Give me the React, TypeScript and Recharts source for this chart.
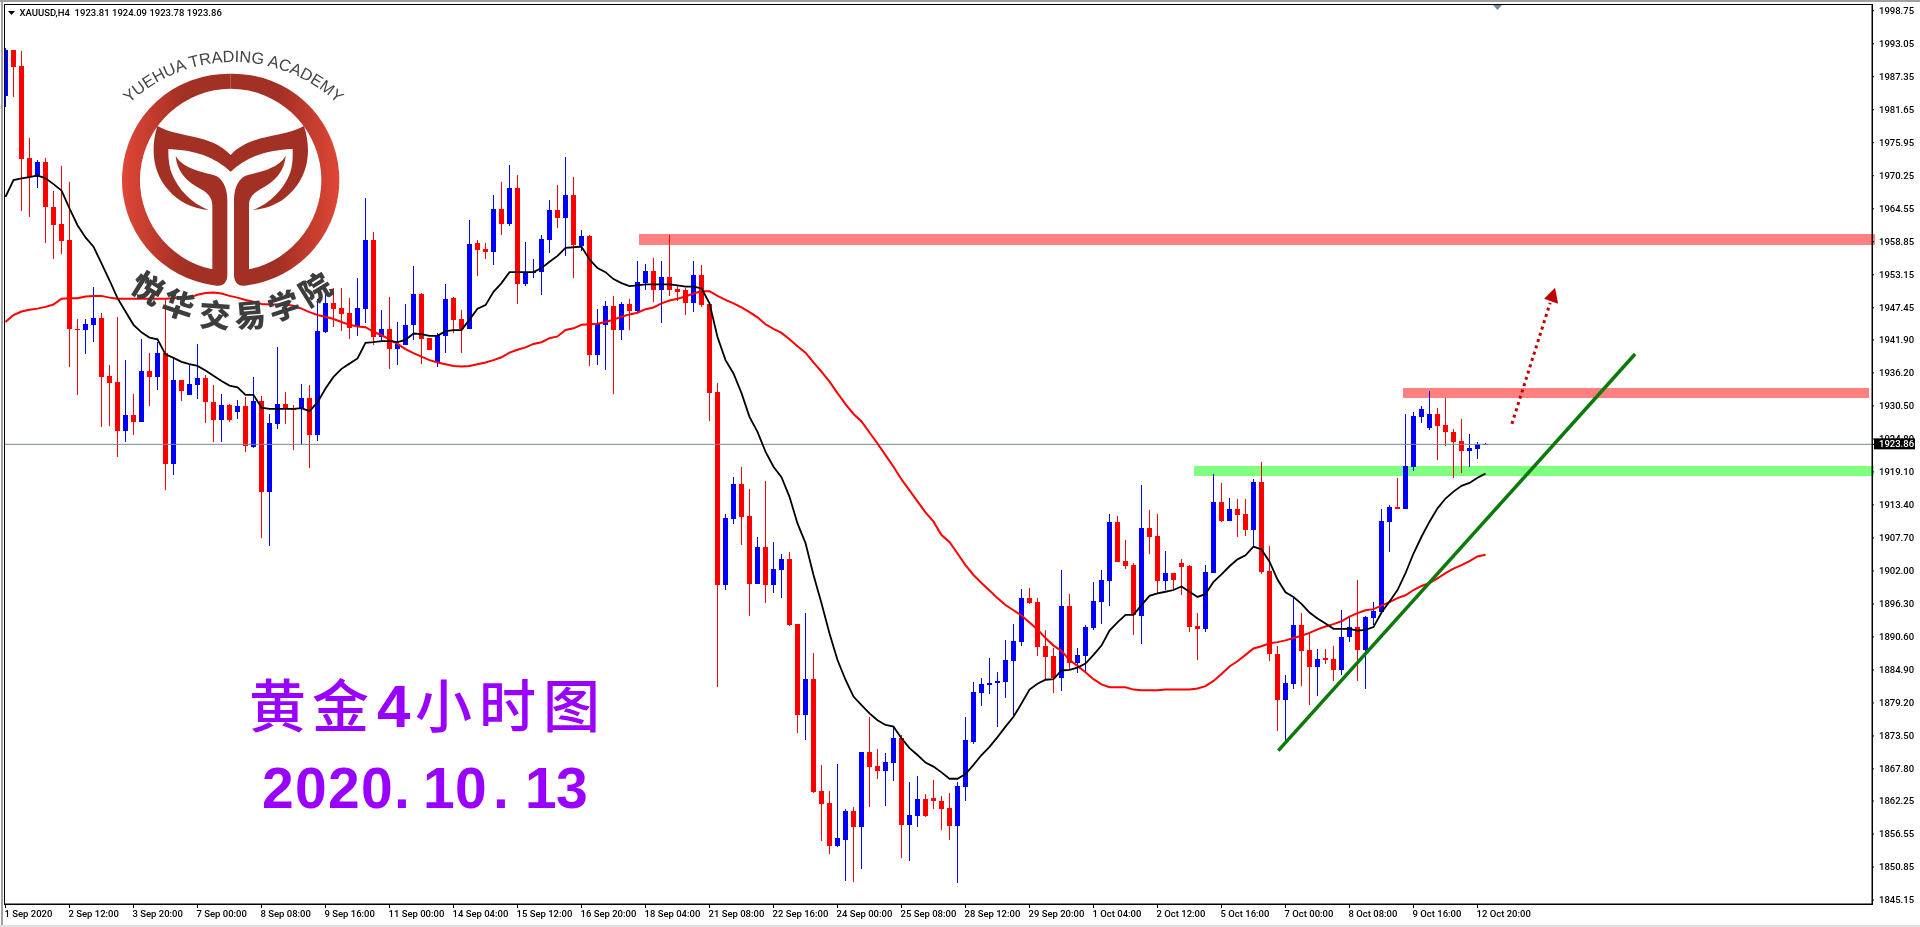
import React from "react";
import {
  ComposedChart,
  Bar,
  Line,
  XAxis,
  YAxis,
  ReferenceLine,
  ReferenceArea,
  ReferenceDot,
} from "recharts";

const opens = [
  1984.0, 1992.0, 1989.2, 1973.3, 1970.1, 1972.6, 1964.8, 1961.9, 1959.2, 1943.8,
  1943.6, 1944.5, 1945.7, 1935.7, 1934.6, 1926.2, 1929.0, 1927.8, 1936.5, 1935.5,
  1939.6, 1920.5, 1935.0, 1932.3, 1934.1, 1935.4, 1931.2, 1928.1, 1930.7, 1929.4,
  1930.5, 1923.4, 1931.3, 1915.6, 1927.4, 1930.8, 1930.0, 1930.0, 1931.9, 1925.5,
  1943.3, 1948.3, 1947.4, 1946.5, 1944.2, 1947.2, 1959.2, 1942.4, 1943.8, 1940.3,
  1941.0, 1944.5, 1949.8, 1942.2, 1938.1, 1942.6, 1949.1, 1945.5, 1943.8, 1958.6,
  1957.6, 1957.1, 1964.5, 1961.9, 1968.1, 1951.5, 1953.4, 1953.6, 1959.2, 1964.3,
  1962.9, 1966.9, 1958.1, 1959.8, 1939.3, 1944.5, 1947.8, 1943.6, 1948.1, 1946.9,
  1951.7, 1953.8, 1950.5, 1952.8, 1950.7, 1950.5, 1948.3, 1953.1, 1948.1, 1932.9,
  1899.6, 1911.0, 1917.0, 1911.5, 1899.7, 1906.1, 1899.6, 1902.2, 1904.1, 1892.8,
  1877.1, 1883.3, 1864.0, 1861.9, 1854.5, 1855.5, 1860.5, 1857.8, 1870.7, 1868.3,
  1867.4, 1868.8, 1873.1, 1858.1, 1859.7, 1862.6, 1862.8, 1862.3, 1861.0, 1857.9,
  1864.7, 1872.4, 1880.9, 1882.3, 1882.6, 1882.8, 1886.4, 1889.7, 1897.3, 1896.6,
  1889.0, 1887.3, 1883.5, 1895.9, 1886.1, 1887.3, 1892.1, 1896.6, 1900.2, 1910.4,
  1903.7, 1903.0, 1894.2, 1909.4, 1908.0, 1900.2, 1901.6, 1903.4, 1902.8, 1892.5,
  1892.0, 1901.6, 1913.9, 1910.6, 1912.7, 1911.8, 1909.1, 1917.4, 1902.0, 1887.6,
  1879.7, 1882.5, 1892.7, 1888.3, 1885.4, 1887.0, 1886.8, 1884.9, 1890.6, 1892.3,
  1888.3, 1893.9, 1894.9, 1910.4, 1913.0, 1912.7, 1919.9, 1928.6, 1926.7, 1929.1,
  1927.2, 1926.0, 1924.4, 1922.7, 1923.1, 1923.81,
];

const closes = [
  1992.0, 1989.1, 1973.2, 1970.1, 1972.6, 1964.8, 1961.8, 1958.9, 1943.8, 1943.7,
  1944.6, 1945.7, 1935.5, 1934.5, 1926.2, 1929.0, 1927.8, 1936.5, 1935.5, 1939.6,
  1920.5, 1935.0, 1933.0, 1934.3, 1935.4, 1931.2, 1928.1, 1930.7, 1928.1, 1930.5,
  1923.6, 1931.3, 1915.6, 1927.5, 1930.8, 1930.0, 1929.9, 1931.9, 1925.5, 1943.4,
  1948.3, 1947.2, 1946.4, 1944.0, 1947.4, 1959.2, 1942.4, 1943.8, 1940.3, 1941.2,
  1944.5, 1949.8, 1942.1, 1940.2, 1942.7, 1949.0, 1945.3, 1943.8, 1958.5, 1957.4,
  1957.1, 1964.5, 1961.9, 1968.1, 1951.5, 1953.6, 1953.6, 1959.3, 1964.3, 1962.9,
  1966.9, 1958.3, 1959.8, 1939.3, 1944.6, 1947.8, 1943.6, 1948.1, 1946.9, 1951.9,
  1953.8, 1950.5, 1952.8, 1950.5, 1950.2, 1948.3, 1953.1, 1947.9, 1932.7, 1899.6,
  1911.1, 1917.0, 1911.3, 1899.7, 1906.1, 1899.6, 1902.3, 1904.1, 1892.7, 1877.1,
  1883.3, 1863.8, 1861.7, 1854.5, 1855.9, 1860.5, 1857.8, 1870.7, 1868.1, 1867.4,
  1869.0, 1873.1, 1858.1, 1859.8, 1862.6, 1859.7, 1862.3, 1860.9, 1857.9, 1864.8,
  1872.8, 1881.1, 1882.5, 1882.6, 1883.0, 1886.6, 1889.9, 1897.3, 1896.5, 1888.9,
  1887.1, 1883.5, 1895.9, 1886.1, 1887.5, 1892.3, 1896.8, 1900.4, 1910.4, 1903.5,
  1902.8, 1894.4, 1909.4, 1907.9, 1900.2, 1901.6, 1900.4, 1902.7, 1892.3, 1892.0,
  1901.8, 1913.9, 1910.6, 1912.7, 1911.7, 1909.1, 1917.4, 1901.8, 1887.6, 1879.7,
  1882.6, 1892.7, 1888.2, 1885.4, 1886.8, 1886.6, 1884.9, 1890.6, 1892.3, 1888.3,
  1894.0, 1895.1, 1910.6, 1913.0, 1912.7, 1920.1, 1928.7, 1930.0, 1929.1, 1927.0,
  1926.0, 1924.3, 1922.7, 1923.2, 1923.9, 1923.86,
];

const highs = [
  1992.3, 1992.0, 1991.8, 1976.7, 1973.0, 1973.3, 1967.6, 1971.9, 1969.1, 1945.5,
  1945.5, 1951.0, 1946.5, 1937.6, 1945.9, 1938.4, 1932.6, 1942.0, 1939.7, 1941.5,
  1949.1, 1938.9, 1935.0, 1937.6, 1941.2, 1935.8, 1934.1, 1932.6, 1930.8, 1931.5,
  1932.0, 1935.5, 1932.2, 1929.1, 1940.7, 1932.9, 1930.6, 1934.3, 1934.1, 1949.0,
  1950.6, 1950.9, 1950.8, 1949.2, 1952.6, 1966.4, 1960.5, 1947.1, 1949.3, 1945.0,
  1948.1, 1954.7, 1950.0, 1942.2, 1943.1, 1951.5, 1949.3, 1947.1, 1962.6, 1959.2,
  1958.6, 1966.9, 1969.2, 1972.1, 1970.4, 1958.8, 1955.9, 1960.0, 1966.1, 1968.6,
  1973.5, 1970.0, 1960.9, 1960.0, 1947.2, 1948.6, 1949.5, 1948.4, 1949.0, 1955.5,
  1955.0, 1956.0, 1955.5, 1960.0, 1951.2, 1950.9, 1955.5, 1954.8, 1948.1, 1934.4,
  1911.8, 1918.2, 1919.9, 1916.1, 1907.9, 1917.5, 1907.0, 1904.9, 1905.3, 1892.8,
  1894.7, 1887.8, 1868.5, 1864.0, 1868.6, 1860.9, 1861.2, 1870.7, 1876.8, 1871.2,
  1870.5, 1875.0, 1873.7, 1865.5, 1866.6, 1863.5, 1865.9, 1863.1, 1863.6, 1865.5,
  1876.8, 1882.8, 1883.5, 1887.0, 1884.5, 1890.1, 1892.8, 1898.9, 1899.1, 1897.3,
  1891.8, 1888.7, 1902.2, 1898.0, 1888.7, 1892.7, 1900.1, 1902.2, 1911.8, 1911.5,
  1907.3, 1903.4, 1916.8, 1912.5, 1911.8, 1905.4, 1901.6, 1904.1, 1903.0, 1894.7,
  1903.0, 1918.7, 1917.2, 1914.6, 1914.4, 1914.4, 1917.9, 1920.8, 1906.3, 1889.0,
  1884.0, 1897.7, 1894.7, 1891.3, 1888.5, 1888.5, 1889.0, 1895.2, 1894.0, 1900.4,
  1894.2, 1896.6, 1912.7, 1913.4, 1918.0, 1929.1, 1929.4, 1930.5, 1933.1, 1930.1,
  1931.9, 1926.5, 1928.2, 1925.6, 1924.3, 1924.09,
];

const lows = [
  1982.1, 1983.9, 1964.2, 1963.1, 1968.2, 1958.7, 1955.8, 1956.7, 1937.3, 1932.3,
  1939.5, 1941.5, 1926.9, 1927.0, 1921.7, 1924.3, 1925.5, 1927.8, 1930.5, 1933.2,
  1916.0, 1918.6, 1931.3, 1932.3, 1931.7, 1927.5, 1924.3, 1924.3, 1927.7, 1928.3,
  1922.5, 1923.2, 1907.7, 1906.3, 1926.5, 1927.4, 1922.9, 1923.7, 1919.8, 1924.4,
  1943.1, 1944.2, 1943.5, 1942.1, 1942.6, 1944.8, 1941.0, 1941.7, 1936.9, 1937.6,
  1941.0, 1941.9, 1937.8, 1940.2, 1937.3, 1939.6, 1943.1, 1939.6, 1943.8, 1952.9,
  1955.9, 1954.8, 1960.0, 1961.6, 1948.1, 1951.2, 1952.6, 1949.6, 1956.9, 1961.3,
  1956.4, 1952.6, 1957.2, 1937.4, 1937.6, 1936.7, 1932.6, 1941.9, 1943.6, 1946.7,
  1950.5, 1948.4, 1944.8, 1949.5, 1948.6, 1946.2, 1946.7, 1947.6, 1927.9, 1882.0,
  1898.7, 1910.1, 1906.5, 1894.2, 1899.7, 1896.5, 1898.2, 1897.3, 1892.5, 1874.0,
  1872.8, 1863.6, 1855.4, 1853.1, 1854.3, 1848.4, 1848.3, 1850.5, 1861.2, 1866.1,
  1861.4, 1865.7, 1852.4, 1851.9, 1857.8, 1859.5, 1860.9, 1857.3, 1855.5, 1848.1,
  1862.3, 1872.1, 1878.7, 1880.7, 1875.0, 1880.0, 1876.8, 1889.0, 1896.3, 1887.3,
  1883.3, 1880.9, 1881.3, 1884.9, 1884.4, 1884.5, 1891.8, 1892.8, 1895.9, 1903.5,
  1902.3, 1890.9, 1889.4, 1904.9, 1898.0, 1898.7, 1898.7, 1897.8, 1891.4, 1886.6,
  1891.4, 1901.6, 1910.4, 1910.6, 1907.8, 1908.0, 1906.2, 1901.5, 1886.4, 1874.3,
  1872.5, 1881.6, 1882.1, 1878.8, 1880.4, 1885.9, 1883.0, 1884.0, 1889.7, 1883.0,
  1881.6, 1892.7, 1894.9, 1905.3, 1912.7, 1912.7, 1919.2, 1927.5, 1926.3, 1921.2,
  1923.6, 1918.0, 1918.9, 1919.9, 1921.3, 1923.78,
];

const blackMa = [
  1966.6, 1969.5, 1969.8, 1970.0, 1970.3, 1969.8, 1968.8, 1967.7, 1964.6, 1961.7,
  1959.6, 1958.0, 1955.1, 1952.2, 1949.1, 1946.8, 1944.5, 1943.2, 1942.3, 1942.0,
  1939.4, 1938.8, 1938.1, 1937.7, 1937.4, 1936.6, 1935.7, 1934.8, 1934.0, 1933.7,
  1932.4, 1932.4, 1930.2, 1930.0, 1930.0, 1930.0, 1930.0, 1930.1, 1929.6, 1931.1,
  1933.5, 1935.5, 1936.9, 1937.8, 1938.7, 1941.4, 1941.5, 1941.7, 1941.7, 1941.5,
  1941.9, 1943.0, 1942.9, 1942.6, 1942.6, 1943.4, 1943.6, 1943.6, 1945.4, 1947.3,
  1947.9, 1950.2, 1951.7, 1953.6, 1953.6, 1953.6, 1953.6, 1954.3, 1955.4, 1956.4,
  1957.8, 1957.9, 1958.0, 1955.8, 1954.3, 1953.6, 1952.4, 1951.7, 1951.2, 1951.3,
  1951.5, 1951.5, 1951.5, 1951.5, 1951.3, 1951.1, 1951.1, 1950.8, 1948.2, 1942.4,
  1938.4, 1936.1, 1932.7, 1928.6, 1926.0, 1922.6, 1920.0, 1918.2, 1914.8, 1910.2,
  1906.8, 1901.3, 1896.4, 1891.2, 1886.6, 1883.2, 1880.3, 1878.8, 1877.4, 1876.2,
  1875.4, 1875.1, 1873.1, 1871.4, 1870.2, 1868.9, 1868.2, 1867.2, 1866.1, 1866.1,
  1866.9, 1868.5, 1870.2, 1871.6, 1873.3, 1875.1, 1876.8, 1879.1, 1881.5, 1882.5,
  1883.2, 1883.3, 1884.8, 1884.9, 1885.3, 1886.0, 1887.5, 1889.1, 1891.7, 1893.1,
  1894.4, 1894.4, 1896.1, 1897.7, 1898.1, 1898.4, 1898.7, 1899.3, 1898.4, 1897.5,
  1898.0, 1900.1, 1901.4, 1902.8, 1904.0, 1904.7, 1906.2, 1905.7, 1903.6, 1900.5,
  1898.3, 1897.5, 1896.3, 1894.8, 1893.8, 1892.9, 1892.0, 1892.0, 1892.0, 1891.7,
  1891.8, 1892.3, 1894.8, 1896.7, 1898.7, 1901.6, 1905.0, 1907.9, 1910.5, 1912.8,
  1914.5, 1915.7, 1916.7, 1917.2, 1918.1, 1918.8,
];

const redMa = [
  1945.0, 1946.2, 1946.8, 1947.1, 1947.3, 1947.6, 1948.0, 1949.0, 1949.1, 1949.1,
  1949.4, 1949.5, 1949.5, 1949.2, 1949.0, 1949.0, 1949.0, 1949.0, 1949.0, 1949.0,
  1949.0, 1949.1, 1949.2, 1949.2, 1949.7, 1950.0, 1950.1, 1949.9, 1949.5, 1949.2,
  1948.8, 1948.5, 1948.1, 1948.0, 1948.0, 1948.0, 1947.8, 1947.3, 1946.7, 1946.2,
  1945.9, 1945.5, 1945.0, 1944.5, 1944.2, 1944.1, 1943.3, 1942.7, 1942.0, 1941.2,
  1940.3, 1939.6, 1939.0, 1938.4, 1938.0, 1937.7, 1937.4, 1937.3, 1937.4, 1937.7,
  1938.0, 1938.4, 1938.9, 1939.7, 1940.2, 1940.6, 1941.2, 1941.5, 1942.2, 1942.5,
  1943.6, 1943.9, 1944.5, 1944.6, 1944.7, 1945.0, 1945.4, 1945.9, 1946.3, 1946.6,
  1947.2, 1947.5, 1948.2, 1948.7, 1949.0, 1949.4, 1949.9, 1950.3, 1950.3, 1949.5,
  1948.8, 1948.2, 1947.5, 1946.7, 1945.8, 1944.6, 1943.8, 1943.1, 1942.0, 1940.8,
  1939.7, 1938.0, 1936.4, 1934.7, 1932.7, 1930.8, 1929.1, 1927.8, 1925.9, 1924.0,
  1922.0, 1920.0, 1917.8, 1915.9, 1914.0, 1912.1, 1910.5, 1908.2, 1907.0, 1905.0,
  1903.0, 1901.3, 1899.9, 1898.6, 1897.3, 1896.1, 1895.2, 1894.3, 1893.1, 1891.9,
  1890.4, 1889.1, 1888.2, 1886.6, 1885.6, 1884.5, 1883.3, 1882.4, 1881.9, 1881.9,
  1881.9, 1881.5, 1881.4, 1881.4, 1881.4, 1881.5, 1881.5, 1881.5, 1881.5, 1881.7,
  1882.1, 1883.0, 1884.2, 1885.5, 1886.4, 1887.5, 1888.6, 1889.0, 1889.5, 1889.7,
  1890.0, 1890.4, 1890.8, 1891.3, 1891.9, 1892.4, 1892.8, 1893.3, 1894.1, 1894.7,
  1895.2, 1895.4, 1896.0, 1896.6, 1897.3, 1897.8, 1898.7, 1899.4, 1899.9, 1900.7,
  1901.6, 1902.4, 1903.0, 1903.7, 1904.5, 1904.8,
];

const timeLabels = [
  "1 Sep 2020", "2 Sep 12:00", "3 Sep 20:00", "7 Sep 00:00", "8 Sep 08:00", "9 Sep 16:00",
  "11 Sep 00:00", "14 Sep 04:00", "15 Sep 12:00", "16 Sep 20:00", "18 Sep 04:00", "21 Sep 08:00",
  "22 Sep 16:00", "24 Sep 00:00", "25 Sep 08:00", "28 Sep 12:00", "29 Sep 20:00", "1 Oct 04:00",
  "2 Oct 12:00", "5 Oct 16:00", "7 Oct 00:00", "8 Oct 08:00", "9 Oct 16:00", "12 Oct 20:00",
];

const BARS_PER_LABEL = 8;
const LAST_PRICE = 1923.86;

// 1923.86 stays after 1924.80 so its black box covers that label, as MT4 does
const priceTicks = [
  1998.75, 1993.05, 1987.35, 1981.65, 1975.95, 1970.25, 1964.55, 1958.85, 1953.15, 1947.45,
  1941.9, 1936.2, 1930.5, 1924.8, LAST_PRICE, 1919.1, 1913.4, 1907.7, 1902.0, 1896.3,
  1890.6, 1884.9, 1879.2, 1873.5, 1867.8, 1862.25, 1856.55, 1850.85, 1845.15,
];

// hand drawn levels, in bar index / price
const zones = [
  { x1: 79.19, x2: 233.69, y1: 1958.29, y2: 1960.19, fill: "#ff8080" },
  { x1: 174.69, x2: 232.94, y1: 1931.87, y2: 1933.59, fill: "#ff8080" },
  { x1: 148.56, x2: 233.56, y1: 1918.39, y2: 1920.12, fill: "#80ff80" },
];
const trendLine = [
  { x: 159.1, y: 1870.95 },
  { x: 203.7, y: 1939.46 },
];
const arrowLine = [
  { x: 188.3, y: 1927.4 },
  { x: 193.08, y: 1948.3 },
];
const arrowTip = { x: 193.7, y: 1950.9 };

const rows = opens.map((open, i) => ({
  i,
  open,
  close: closes[i],
  high: highs[i],
  low: lows[i],
  range: [lows[i], highs[i]],
  fast: blackMa[i],
  slow: redMa[i],
}));

const FONT = "Roboto, sans-serif";

function Candle(props: any) {
  const { x, y, width, height, payload } = props;
  const { open, close, high, low } = payload;
  const color = close >= open ? "#0000ff" : "#ff0000";
  const perUnit = height / (high - low);
  const top = y + (high - Math.max(open, close)) * perUnit;
  const bodyH = Math.max(Math.abs(open - close) * perUnit, 1);
  const cx = Math.floor(x + width / 2);
  return (
    <g shapeRendering="crispEdges">
      <rect x={cx} y={y} width={1} height={height} fill={color} />
      <rect x={cx - 2} y={top} width={5} height={bodyH} fill={color} />
    </g>
  );
}

function TimeTick(props: any) {
  const { x, y, index } = props;
  return (
    <text x={x - 1} y={y + 9} fontFamily={FONT} fontWeight={500} fontSize={9.5} fill="#000">
      {timeLabels[index]}
    </text>
  );
}

function PriceTick(props: any) {
  const { x, y, payload } = props;
  const isLast = payload.value === LAST_PRICE;
  return (
    <g>
      {isLast && <rect x={x - 5} y={y - 6} width={41} height={11} fill="#000" />}
      <text x={x} y={y + 3} fontFamily={FONT} fontWeight={500} fontSize={9.5} fill={isLast ? "#fff" : "#000"}>
        {payload.value.toFixed(2)}
      </text>
    </g>
  );
}

function Zone(props: any) {
  const { x, y, width, height, fill } = props;
  return <rect x={x} y={y} width={width} height={height} fill={fill} shapeRendering="crispEdges" style={{ mixBlendMode: "multiply" }} />;
}

function ArrowHead(props: any) {
  const { cx, cy } = props;
  return <polygon points={`${cx},${cy} ${cx - 11},${cy + 11} ${cx + 3},${cy + 16}`} fill="#c00000" />;
}

const halfLogo =
  "M692,221 A319,319 0 0 0 650,857 C670,860 682,845 682,825 L682,600 C682,560 665,530 640,525 C600,515 550,505 527,468 C530,510 555,540 590,560 C620,575 637,590 637,615 L637,808 A274,274 0 0 1 692,266 Z";
const crown =
  "M472,378 C540,415 630,400 692,465 C754,400 844,415 912,378 C935,450 925,520 880,570 C850,605 810,625 760,630 C810,610 850,570 870,520 C880,490 878,465 878,447 C800,450 740,470 692,515 C644,470 584,450 505,447 C505,465 505,490 515,520 C535,570 575,610 625,630 C575,625 535,605 505,570 C460,520 450,450 472,378 Z";

const logoChars = [
  { ch: "悦", x: 447, y: 860, r: 32 },
  { ch: "华", x: 537, y: 908, r: 18 },
  { ch: "交", x: 645, y: 940, r: 4 },
  { ch: "易", x: 750, y: 940, r: -5 },
  { ch: "学", x: 850, y: 913, r: -18 },
  { ch: "院", x: 943, y: 863, r: -32 },
];

function Overlay() {
  return (
    <svg width={1920} height={927} style={{ position: "absolute", left: 0, top: 0, pointerEvents: "none" }}>
      <defs>
        <linearGradient id="ring" gradientUnits="userSpaceOnUse" x1={372} y1={0} x2={1012} y2={0}>
          <stop offset="0" stopColor="#de4636" />
          <stop offset="0.28" stopColor="#a23024" />
          <stop offset="0.72" stopColor="#a23024" />
          <stop offset="1" stopColor="#de4636" />
        </linearGradient>
        <path id="logoArc" d="M372,326 A454,454 0 0 1 1028,326" />
      </defs>

      {/* window edges and chart frame */}
      <rect x={0} y={0} width={1920} height={2} fill="#a0a0a0" />
      <rect x={1} y={0} width={2} height={927} fill="#a0a0a0" />
      <rect x={0} y={925} width={1920} height={2} fill="#e0e0e0" />
      <rect x={4.5} y={4.5} width={1868} height={900} fill="none" stroke="#000" shapeRendering="crispEdges" />

      <polygon points="1493,5 1502,5 1497.5,10" fill="#778899" />
      <polygon points="8,11 15,11 11.5,15" fill="#000" />
      <text x={19.5} y={15.5} fontFamily={FONT} fontWeight={500} fontSize={9.5} fill="#000" xmlSpace="preserve">
        XAUUSD,H4  1923.81 1924.09 1923.78 1923.86
      </text>

      {/* logo, drawn in 3x coordinates */}
      <g transform="scale(0.33333)">
        <path d={halfLogo} fill="url(#ring)" />
        <path d={halfLogo} fill="url(#ring)" transform="translate(1384,0) scale(-1,1)" />
        <path d={crown} fill="#a23024" />
        <text fontFamily="'Liberation Sans', sans-serif" fontSize={49} fill="#444">
          <textPath href="#logoArc" startOffset="50%" textAnchor="middle">
            YUEHUA TRADING ACADEMY
          </textPath>
        </text>
        {logoChars.map((c) => (
          <text
            key={c.ch}
            x={c.x}
            y={c.y}
            transform={`rotate(${c.r} ${c.x} ${c.y})`}
            textAnchor="middle"
            dominantBaseline="central"
            fontFamily="'Noto Sans CJK SC'"
            fontWeight={900}
            fontSize={94}
            fill="#3d3d3d"
          >
            {c.ch}
          </text>
        ))}
      </g>

      {/* caption */}
      <text y={727} fontFamily="'Noto Sans CJK SC', sans-serif" fontWeight={500} fontSize={57} fill="#9900ff">
        <tspan x="249 312">黄金</tspan>
        <tspan x={377} fontFamily="'Liberation Sans', sans-serif" fontWeight={700} fontSize={60}>4</tspan>
        <tspan x="415 479 543">小时图</tspan>
      </text>
      <text
        x="262 295 328 361 394 423 455 493 525 556"
        y={808}
        fontFamily="'Liberation Sans', sans-serif"
        fontWeight={700}
        fontSize={57}
        fill="#9900ff"
      >
        2020.10.13
      </text>
    </svg>
  );
}

export default function App() {
  return (
    <div style={{ position: "absolute", left: 0, top: 0, width: 1920, height: 927, background: "#fff", overflow: "hidden" }}>
      <ComposedChart width={1920} height={927} data={rows} margin={{ top: 5, right: 0, bottom: 0, left: 5 }}>
        <XAxis
          type="number"
          dataKey="i"
          domain={[-0.0625, 233.3125]}
          allowDataOverflow
          ticks={timeLabels.map((_, k) => k * BARS_PER_LABEL)}
          interval={0}
          height={23}
          tickSize={4}
          tickMargin={0}
          stroke="#000"
          tick={<TimeTick />}
        />
        <YAxis
          orientation="right"
          type="number"
          domain={[1844.47, 1999.74]}
          allowDataOverflow
          ticks={priceTicks}
          interval={0}
          width={48}
          tickSize={2}
          tickMargin={5}
          stroke="#000"
          tick={<PriceTick />}
        />
        <ReferenceLine y={LAST_PRICE} stroke="#778899" strokeWidth={1} />
        <Bar dataKey="range" barSize={5} shape={<Candle />} isAnimationActive={false} />
        <Line dataKey="slow" stroke="#ff0000" strokeWidth={2} dot={false} isAnimationActive={false} />
        <Line dataKey="fast" stroke="#000" strokeWidth={1.8} dot={false} isAnimationActive={false} />
        {zones.map((z) => (
          <ReferenceArea key={z.y1} {...z} ifOverflow="visible" shape={<Zone fill={z.fill} />} />
        ))}
        <ReferenceLine segment={trendLine} stroke="#0b7a0b" strokeWidth={3.5} ifOverflow="visible" />
        <ReferenceLine segment={arrowLine} stroke="#c00000" strokeWidth={3} strokeDasharray="3 3.6" ifOverflow="visible" />
        <ReferenceDot {...arrowTip} r={1} ifOverflow="visible" shape={<ArrowHead />} />
      </ComposedChart>
      <Overlay />
    </div>
  );
}
